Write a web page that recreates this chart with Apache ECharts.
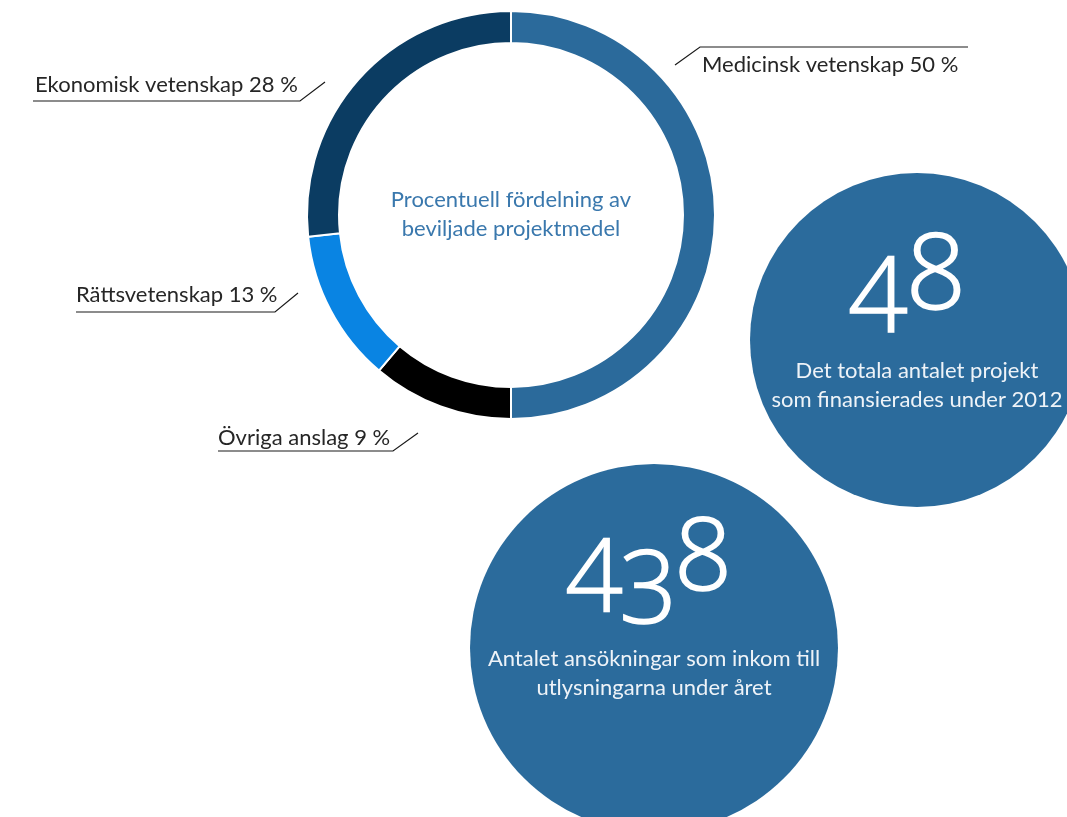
<!DOCTYPE html>
<html>
<head>
<meta charset="utf-8">
<script src="https://cdn.jsdelivr.net/npm/echarts@6/dist/echarts.min.js"></script>
<style>
html,body{margin:0;padding:0;background:#ffffff;}
#chart{width:1067px;height:817px;}
</style>
</head>
<body>
<div id="chart"></div>
<script>
// ---- data ----
const categories = ['Medicinsk vetenskap', 'Övriga anslag', 'Rättsvetenskap', 'Ekonomisk vetenskap'];
const arcShare = [50, 11.2, 12.1, 26.7];          // share of the ring as drawn
const labelPct = ['50 %', '9 %', '13 %', '28 %']; // percentages as printed
const sliceColors = ['#2b6a9b', '#000000', '#0984e3', '#0b3c62'];
const centerTitle = ['Procentuell fördelning av', 'beviljade projektmedel'];
const statProjects = '48';
const statProjectsText = ['Det totala antalet projekt', 'som finansierades under 2012'];
const statApplications = '438';
const statApplicationsText = ['Antalet ansökningar som inkom till', 'utlysningarna under året'];

const FONT = 'Lato, "Open Sans", "DejaVu Sans", sans-serif';
const DFONT = '"Open Sans", Lato, sans-serif';
const chart = echarts.init(document.getElementById('chart'));

function annot(textStr, tx, ty, line) {
  return [
    { type: 'text', style: { text: textStr, x: tx, y: ty, font: '22px ' + FONT, fill: '#262626', textVerticalAlign: 'middle' } },
    { type: 'polyline', shape: { points: line }, style: { stroke: '#1a1a1a', lineWidth: 1.2, fill: null } }
  ];
}

const digitFont = '300 105px ' + DFONT;
const digitFont2 = '300 101px ' + DFONT;
function digit(ch, x, y, font) {
  return { type: 'text', style: { text: ch, x: x, y: y, font: font, fill: '#ffffff', stroke: '#ffffff', lineWidth: 1.6, textAlign: 'center', textVerticalAlign: 'middle' } };
}

const graphics = [
  // stat circles
  { type: 'circle', shape: { cx: 917, cy: 340, r: 167 }, style: { fill: '#2b6b9c' } },
  { type: 'circle', shape: { cx: 654, cy: 648, r: 184 }, style: { fill: '#2b6b9c' } },
  // 48 (old-style figure positions)
  digit(statProjects[0], 878, 302, digitFont),
  digit(statProjects[1], 936, 279, digitFont),
  { type: 'text', style: { text: statProjectsText[0], x: 917, y: 371, font: '22px ' + FONT, fill: '#eef3f8', textAlign: 'center', textVerticalAlign: 'middle' } },
  { type: 'text', style: { text: statProjectsText[1], x: 917, y: 400, font: '22px ' + FONT, fill: '#eef3f8', textAlign: 'center', textVerticalAlign: 'middle' } },
  // 438
  digit(statApplications[0], 594, 583, digitFont2),
  digit(statApplications[1], 648, 594, digitFont2),
  digit(statApplications[2], 703, 561, digitFont2),
  { type: 'text', style: { text: statApplicationsText[0], x: 654, y: 659, font: '22px ' + FONT, fill: '#eef3f8', textAlign: 'center', textVerticalAlign: 'middle' } },
  { type: 'text', style: { text: statApplicationsText[1], x: 654, y: 688, font: '22px ' + FONT, fill: '#eef3f8', textAlign: 'center', textVerticalAlign: 'middle' } },
  // donut centre title
  { type: 'text', style: { text: centerTitle[0], x: 511, y: 200, font: '22px ' + FONT, fill: '#3a78ad', textAlign: 'center', textVerticalAlign: 'middle' } },
  { type: 'text', style: { text: centerTitle[1], x: 511, y: 229, font: '22px ' + FONT, fill: '#3a78ad', textAlign: 'center', textVerticalAlign: 'middle' } }
].concat(
  annot(categories[3] + ' ' + labelPct[3], 35, 85, [[33, 101], [300, 101], [325, 82]]),
  annot(categories[0] + ' ' + labelPct[0], 702, 65, [[675, 65], [700, 47], [968, 47]]),
  annot(categories[2] + ' ' + labelPct[2], 76, 295, [[76, 312], [275, 312], [298, 293]]),
  annot(categories[1] + ' ' + labelPct[1], 218, 438, [[218, 451], [393, 451], [418, 433]])
);

chart.setOption({
  animation: false,
  backgroundColor: '#ffffff',
  series: [{
    type: 'pie',
    center: [511, 215],
    radius: [172, 204],
    startAngle: 90,
    clockwise: true,
    label: { show: false },
    labelLine: { show: false },
    silent: true,
    itemStyle: { borderColor: '#ffffff', borderWidth: 2 },
    data: categories.map((c, i) => ({ name: c, value: arcShare[i], itemStyle: { color: sliceColors[i] } }))
  }],
  graphic: { elements: graphics }
});
</script>
</body>
</html>
